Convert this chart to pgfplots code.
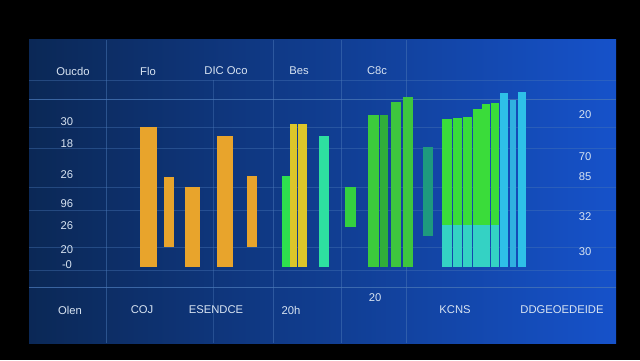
\documentclass[border=0pt]{standalone}
\usepackage{pgfplots}
\pgfplotsset{compat=1.18}
\usepackage{fontspec}
\setmainfont{Liberation Sans}
\definecolor{orng}{HTML}{E8A42C}
\definecolor{yllw}{HTML}{DCC62A}
\definecolor{grnA}{HTML}{2EE04E}
\definecolor{mint}{HTML}{2EE0A0}
\definecolor{grnB}{HTML}{34D040}
\definecolor{grnC}{HTML}{3CCB3C}
\definecolor{grnD}{HTML}{30AE3A}
\definecolor{grnE}{HTML}{3EC63E}
\definecolor{teal}{HTML}{1E9A7E}
\definecolor{grnF}{HTML}{3ADC3A}
\definecolor{cyn}{HTML}{34D2C4}
\definecolor{sky}{HTML}{2EC0E8}
\definecolor{skyB}{HTML}{30B0E0}
\definecolor{panL}{HTML}{0B2856}
\definecolor{panM}{HTML}{103682}
\definecolor{panR}{HTML}{1652CA}
\definecolor{gridc}{HTML}{4A78B8}
\definecolor{txt}{HTML}{D8E4F2}
\newcommand{\rbar}[5]{\addplot[fill=#1,draw=none] coordinates {(#2,#4) (#3,#4) (#3,#5) (#2,#5)} -- cycle;}
\newcommand{\hgrid}[1]{\draw[gridc, opacity=0.4, line width=0.4pt] (axis cs:29,#1) -- (axis cs:616,#1);}
\newcommand{\vgrid}[1]{\draw[gridc, opacity=0.5, line width=0.4pt] (axis cs:#1,227) -- (axis cs:#1,-76);}
\begin{document}
\begin{tikzpicture}[every node/.style={font=\color{txt}\fontsize{8}{10}\selectfont, text=txt}]
\begin{axis}[
  width=16cm, height=9cm, scale only axis,
  xmin=0, xmax=640, ymin=-93, ymax=267,
  axis lines=none, clip=false,
]
% background and panel
\fill[black] (axis cs:0,-93) rectangle (axis cs:640,267);
\shade[left color=panL, middle color=panM, right color=panR] (axis cs:29,-76) rectangle (axis cs:616,227);
% grid lines
\hgrid{187}
\hgrid{140}
\hgrid{119}
\hgrid{80}
\hgrid{57}
\hgrid{20}
\hgrid{-3}
\draw[gridc, opacity=0.75, line width=0.5pt] (axis cs:29,168) -- (axis cs:616,168);
\draw[gridc, opacity=0.75, line width=0.5pt] (axis cs:29,-20) -- (axis cs:616,-20);
\vgrid{106}
\vgrid{273}
\vgrid{341}
\vgrid{406}
\draw[gridc, opacity=0.4, line width=0.4pt] (axis cs:213,187) -- (axis cs:213,-76);

% bars: (colour, x from, x to, low, high)
\rbar{orng}{140}{157}{0}{140}
\rbar{orng}{164}{174}{20}{90}
\rbar{orng}{185}{200}{0}{80}
\rbar{orng}{217}{233}{0}{131}
\rbar{orng}{247}{257}{20}{91}
\rbar{grnA}{282}{290}{0}{91}
\rbar{yllw}{290}{297}{0}{143}
\rbar{yllw}{298}{307}{0}{143}
\rbar{mint}{319}{329}{0}{131}
\rbar{grnB}{345}{356}{40}{80}
\rbar{grnC}{368}{379}{0}{152}
\rbar{grnD}{380}{388}{0}{152}
\rbar{grnE}{391}{401}{0}{165}
\rbar{grnE}{403}{413}{0}{170}
\rbar{teal}{423}{433}{31}{120}
\rbar{cyn}{442}{452}{0}{42}
\rbar{grnF}{442}{452}{42}{148}
\rbar{cyn}{453}{462}{0}{42}
\rbar{grnF}{453}{462}{42}{149}
\rbar{cyn}{463}{472}{0}{42}
\rbar{grnF}{463}{472}{42}{150}
\rbar{cyn}{473}{482}{0}{42}
\rbar{grnF}{473}{482}{42}{158}
\rbar{cyn}{482}{490}{0}{42}
\rbar{grnF}{482}{490}{42}{163}
\rbar{cyn}{491}{499}{0}{42}
\rbar{grnF}{491}{499}{42}{164}
\rbar{sky}{500}{508}{0}{174}
\rbar{skyB}{510}{516}{0}{167}
\rbar{sky}{518}{526}{0}{175}

% header labels
\node at (axis cs:73,196) {Oucdo};
\node at (axis cs:148,196) {Flo};
\node at (axis cs:226,196) {DIC Oco};
\node at (axis cs:299,196) {Bes};
\node at (axis cs:377,196) {C8c};
% left labels
\node at (axis cs:67,145) {30};
\node at (axis cs:67,123) {18};
\node at (axis cs:67,92) {26};
\node at (axis cs:67,63) {96};
\node at (axis cs:67,41) {26};
\node at (axis cs:67,17) {20};
\node at (axis cs:67,2) {-0};
% right labels
\node at (axis cs:585,152) {20};
\node at (axis cs:585,110) {70};
\node at (axis cs:585,90) {85};
\node at (axis cs:585,50) {32};
\node at (axis cs:585,15) {30};
% bottom labels
\node at (axis cs:70,-43) {Olen};
\node at (axis cs:142,-43) {COJ};
\node at (axis cs:216,-43) {ESENDCE};
\node at (axis cs:291,-43) {20h};
\node at (axis cs:375,-31) {20};
\node at (axis cs:455,-43) {KCNS};
\node at (axis cs:562,-43) {DDGEOEDEIDE};
\end{axis}
\end{tikzpicture}
\end{document}
